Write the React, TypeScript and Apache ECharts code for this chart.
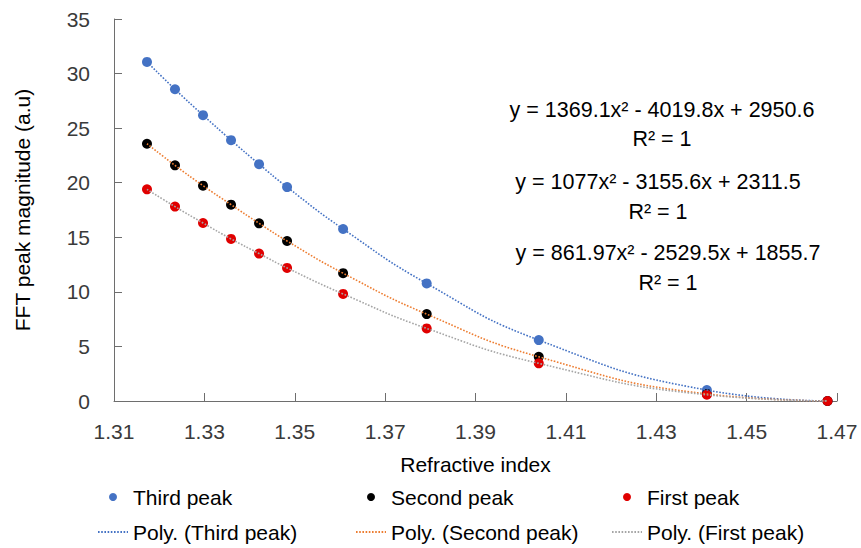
import React, { useEffect, useRef } from "react";
import * as echarts from "echarts";

const refractiveIndex = [1.3173, 1.3235, 1.3297, 1.3359, 1.3421, 1.3483, 1.3607, 1.3792, 1.404, 1.4412, 1.4679];
const thirdPeak = [31.07, 28.56, 26.19, 23.9, 21.7, 19.6, 15.76, 10.77, 5.58, 1.0, 0.0];
const secondPeak = [23.57, 21.59, 19.73, 17.99, 16.28, 14.66, 11.71, 7.96, 4.05, 0.65, 0.0];
const firstPeak = [19.39, 17.81, 16.31, 14.85, 13.51, 12.19, 9.81, 6.65, 3.45, 0.57, 0.0];
const xTicks = [1.31, 1.33, 1.35, 1.37, 1.39, 1.41, 1.43, 1.45, 1.47];
const seriesNames = ["Third peak", "Second peak", "First peak"];
const trendNames = ["Poly. (Third peak)", "Poly. (Second peak)", "Poly. (First peak)"];
const equations = [
  "y = 1369.1x² - 4019.8x + 2950.6",
  "y = 1077x² - 3155.6x + 2311.5",
  "y = 861.97x² - 2529.5x + 1855.7",
];
const rSquared = ["R² = 1", "R² = 1", "R² = 1"];

const FONT = "'Liberation Sans', Arial, sans-serif";
const TEXT = "#3a3a3a";
const markerColors = ["#4472C4", "#000000", "#E00000"];
const trendColors = ["#4472C4", "#ED7D31", "#A5A5A5"];
const eqPos = [
  [662, 110, 139],
  [658, 182, 212],
  [668, 253, 283],
];
const legendLeft = [97, 355, 611];

export default function App() {
  const ref = useRef<HTMLDivElement>(null);
  useEffect(() => {
    if (!ref.current) return;
    const chart = echarts.init(ref.current, null, { renderer: "svg" });
    const values = [thirdPeak, secondPeak, firstPeak];
    const pairs = values.map((v) => refractiveIndex.map((x, i) => [x, v[i]]));
    const scatter = pairs.map((d, k) => ({
      type: "scatter",
      name: seriesNames[k],
      data: d,
      symbol: "circle",
      symbolSize: 10,
      itemStyle: { color: markerColors[k], opacity: 1 },
      z: 2,
    }));
    const trends = pairs.map((d, k) => ({
      type: "line",
      name: trendNames[k],
      data: d,
      symbol: "none",
      smooth: 0.5,
      lineStyle: { color: trendColors[k], width: 1.6, type: [1.6, 1.6] },
      itemStyle: { color: trendColors[k] },
      z: 3,
    }));
    const graphics: any[] = [];
    equations.forEach((eq, k) => {
      graphics.push({
        type: "text",
        x: eqPos[k][0],
        y: eqPos[k][1],
        style: { text: eq, font: `21.5px ${FONT}`, fill: "#000", textAlign: "center", textVerticalAlign: "middle" },
      });
      graphics.push({
        type: "text",
        x: eqPos[k][0],
        y: eqPos[k][2],
        style: { text: rSquared[k], font: `21.5px ${FONT}`, fill: "#000", textAlign: "center", textVerticalAlign: "middle" },
      });
    });
    const legends = seriesNames.map((n, k) => ({
      orient: "vertical",
      left: legendLeft[k],
      top: 485,
      padding: 0,
      itemWidth: 30,
      itemHeight: 8,
      itemGap: 11,
      selectedMode: false,
      textStyle: { fontFamily: FONT, fontSize: 21, color: "#000", lineHeight: 24 },
      data: [
        { name: n, icon: "circle" },
        { name: trendNames[k], itemStyle: { opacity: 0 } },
      ],
    }));
    chart.setOption({
      animation: false,
      grid: { left: 114, right: 24, top: 19, bottom: 147 },
      xAxis: {
        type: "value",
        min: 1.31,
        max: 1.47,
        name: "Refractive index",
        nameLocation: "middle",
        nameGap: 53,
        nameTextStyle: { fontFamily: FONT, fontSize: 21, color: "#000" },
        axisLine: { lineStyle: { color: "#6e6e6e", width: 1 } },
        axisTick: { inside: true, length: 8, customValues: xTicks, lineStyle: { color: "#6e6e6e" } },
        axisLabel: {
          customValues: xTicks,
          formatter: (v: number) => v.toFixed(2),
          fontFamily: FONT,
          fontSize: 21,
          color: TEXT,
          margin: 20,
        },
        splitLine: { show: false },
      },
      yAxis: {
        type: "value",
        min: 0,
        max: 35,
        interval: 5,
        name: "FFT peak magnitude (a.u)",
        nameLocation: "middle",
        nameGap: 81,
        nameTextStyle: { fontFamily: FONT, fontSize: 21, color: "#000" },
        axisLine: { show: true, lineStyle: { color: "#6e6e6e", width: 1 } },
        axisTick: { show: true, inside: true, length: 8, lineStyle: { color: "#6e6e6e" } },
        axisLabel: { fontFamily: FONT, fontSize: 21, color: TEXT, margin: 24 },
        splitLine: { show: false },
      },
      legend: legends,
      graphic: graphics,
      series: [...scatter, ...trends],
    });
    return () => chart.dispose();
  }, []);
  return <div ref={ref} style={{ position: "absolute", left: 0, top: 0, width: 861, height: 548 }} />;
}
